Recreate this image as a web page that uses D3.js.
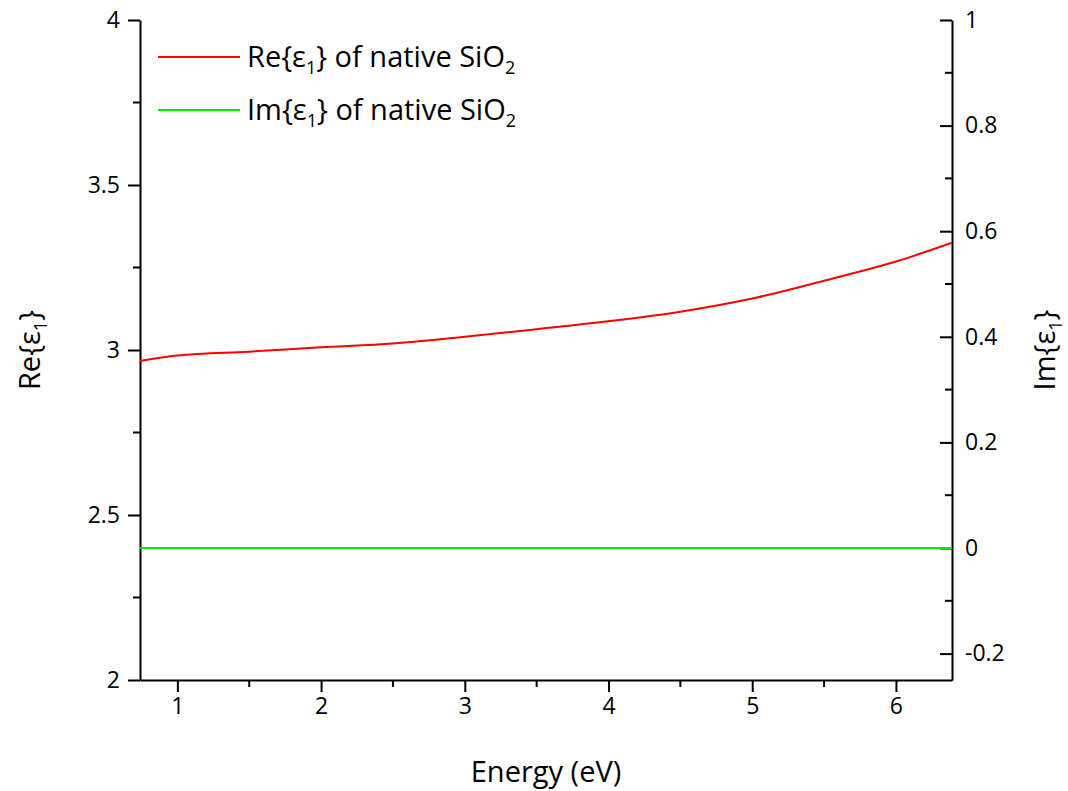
<!DOCTYPE html>
<html>
<head>
<meta charset="utf-8">
<script src="https://cdn.jsdelivr.net/npm/d3@7"></script>
<style>
  html, body { margin: 0; padding: 0; background: #fff; }
  svg { display: block; font-family: "Open Sans", sans-serif; }
</style>
</head>
<body>
<svg id="chart" width="1068" height="791"></svg>
<script>
// energy (eV) and dielectric function of native SiO2
const energy = [0.74, 1, 1.5, 2, 2.5, 3, 3.5, 4, 4.5, 5, 5.5, 6, 6.39];
const reEps = [2.967, 2.983, 2.995, 3.008, 3.020, 3.040, 3.063, 3.087, 3.116, 3.156, 3.210, 3.268, 3.325];
const imEps = [0, 0, 0, 0, 0, 0, 0, 0, 0, 0, 0, 0, 0];

const xTicks = [1, 2, 3, 4, 5, 6];
const leftTicks = [2, 2.5, 3, 3.5, 4];
const rightTicks = [-0.2, 0, 0.2, 0.4, 0.6, 0.8, 1];

const RED = '#ff0000';
const GREEN = '#00ee00';

(function () {
  const svg = d3.select('#chart');
  const L = 140, R = 952, T = 20, B = 680;

  const x = d3.scaleLinear().domain([0.74, 6.39]).range([L, R]);
  const yL = d3.scaleLinear().domain([2, 4]).range([B, T]);
  const yR = d3.scaleLinear().domain([-0.25, 1]).range([B, T]);

  const tickFont = 23;
  const titleFont = 29;
  const fmt = d => String(d);

  function styleAxis(g) {
    g.attr('font-size', tickFont).attr('font-family', '"Open Sans", sans-serif');
    g.selectAll('path.domain').attr('stroke', '#000').attr('stroke-width', 2);
    g.selectAll('.tick line').attr('stroke', '#000').attr('stroke-width', 2);
    g.selectAll('.tick text').attr('fill', '#000');
  }

  // minor ticks
  const xMinor = d3.range(1.5, 6.4, 1);
  const lMinor = d3.range(2.25, 4, 0.5);
  const rMinor = d3.range(-0.1, 1, 0.2);

  // bottom axis
  const gx = svg.append('g').attr('transform', `translate(0,${B})`)
    .call(d3.axisBottom(x).tickValues(xTicks).tickFormat(fmt).tickSize(12).tickSizeOuter(0).tickPadding(6));
  styleAxis(gx);
  gx.selectAll('.minor').data(xMinor).enter().append('line')
    .attr('x1', d => x(d)).attr('x2', d => x(d)).attr('y1', 0).attr('y2', 7)
    .attr('stroke', '#000').attr('stroke-width', 2);

  // left axis
  const gl = svg.append('g').attr('transform', `translate(${L},0)`)
    .call(d3.axisLeft(yL).tickValues(leftTicks).tickFormat(fmt).tickSize(12).tickSizeOuter(0).tickPadding(8));
  styleAxis(gl);
  gl.selectAll('.minor').data(lMinor).enter().append('line')
    .attr('y1', d => yL(d)).attr('y2', d => yL(d)).attr('x1', 0).attr('x2', -7)
    .attr('stroke', '#000').attr('stroke-width', 2);

  // right axis (ticks point inward)
  const gr = svg.append('g').attr('transform', `translate(${R},0)`)
    .call(d3.axisRight(yR).tickValues(rightTicks).tickFormat(fmt).tickSize(-12).tickSizeOuter(0).tickPadding(8));
  styleAxis(gr);
  gr.selectAll('.tick text').attr('x', 13);
  gr.selectAll('.minor').data(rMinor).enter().append('line')
    .attr('y1', d => yR(d)).attr('y2', d => yR(d)).attr('x1', 0).attr('x2', -7)
    .attr('stroke', '#000').attr('stroke-width', 2);

  // curves
  const reLine = d3.line().x((d, i) => x(energy[i])).y(d => yL(d)).curve(d3.curveMonotoneX);
  const imLine = d3.line().x((d, i) => x(energy[i])).y(d => yR(d));

  svg.append('path').datum(imEps).attr('d', imLine)
    .attr('fill', 'none').attr('stroke', GREEN).attr('stroke-width', 2);
  svg.append('path').datum(reEps).attr('d', reLine)
    .attr('fill', 'none').attr('stroke', RED).attr('stroke-width', 2);

  // axis titles
  svg.append('text')
    .attr('x', 546).attr('y', 782)
    .attr('text-anchor', 'middle').attr('font-size', titleFont)
    .text('Energy (eV)');

  function epsLabel(sel, prefix) {
    sel.append('tspan').text(prefix + '{ε');
    sel.append('tspan').attr('font-size', 18).attr('dy', 7).text('1');
    sel.append('tspan').attr('dy', -7).text('}');
  }

  const lt = svg.append('text')
    .attr('transform', `translate(40,${(T + B) / 2}) rotate(-90)`)
    .attr('text-anchor', 'middle').attr('font-size', titleFont);
  epsLabel(lt, 'Re');

  const rt = svg.append('text')
    .attr('transform', `translate(1055,${(T + B) / 2}) rotate(-90)`)
    .attr('text-anchor', 'middle').attr('font-size', titleFont);
  epsLabel(rt, 'Im');

  // legend
  const legend = [
    { label: 'Re', color: RED, y: 57 },
    { label: 'Im', color: GREEN, y: 110 }
  ];
  legend.forEach(item => {
    svg.append('line')
      .attr('x1', 158).attr('x2', 240).attr('y1', item.y).attr('y2', item.y)
      .attr('stroke', item.color).attr('stroke-width', 2);
    const t = svg.append('text')
      .attr('x', 247).attr('y', item.y + 10).attr('font-size', titleFont);
    t.append('tspan').text(item.label + '{ε');
    t.append('tspan').attr('font-size', 18).attr('dy', 7).text('1');
    t.append('tspan').attr('dy', -7).text('} of native SiO');
    t.append('tspan').attr('font-size', 18).attr('dy', 7).text('2');
  });
})();
</script>
</body>
</html>
